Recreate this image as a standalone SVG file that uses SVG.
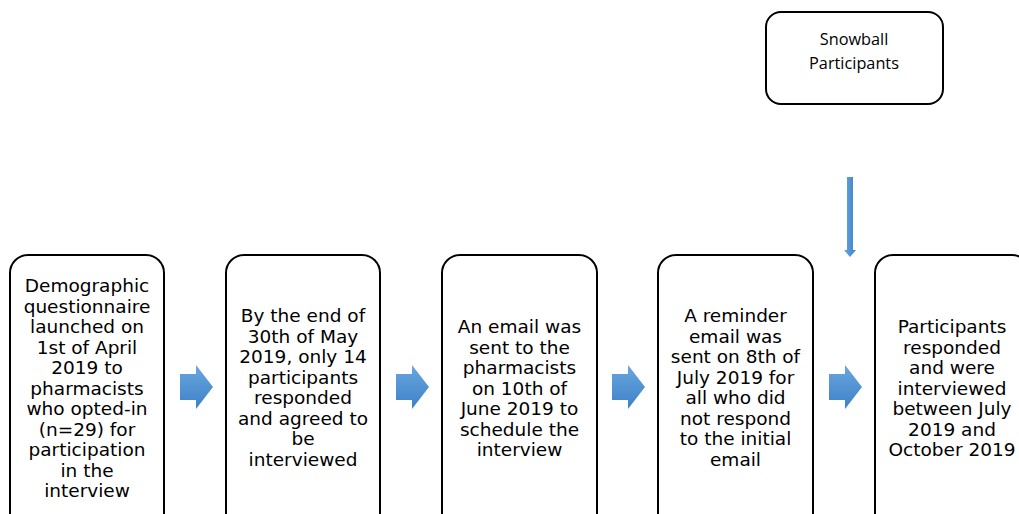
<svg xmlns="http://www.w3.org/2000/svg" width="1019" height="514" viewBox="0 0 1019 514">
<style>
.box{fill:#fff;stroke:#000;stroke-width:2}
.t{font-family:"DejaVu Sans",Verdana,sans-serif;font-size:18.5px;fill:#000;text-anchor:middle}
.s{font-family:"Open Sans","Liberation Sans",sans-serif;font-size:16.3px;fill:#000;text-anchor:middle}
.arr{fill:url(#g)}
.varr{fill:url(#gv)}
</style>
<defs>
<linearGradient id="g" x1="0" y1="0" x2="0" y2="1">
<stop offset="0" stop-color="#6aa7e0"/>
<stop offset="1" stop-color="#3d80c6"/>
</linearGradient>
<linearGradient id="gv" x1="0" y1="0" x2="1" y2="0">
<stop offset="0" stop-color="#6aa7e0"/>
<stop offset="1" stop-color="#3d80c6"/>
</linearGradient>
</defs>
<g id="snowball">
<rect class="box" x="766" y="12" width="177" height="92" rx="15"/>
<text class="s" x="854" y="45">Snowball</text>
<text class="s" x="854" y="69">Participants</text>
</g>
<g id="box1">
<rect class="box" x="10" y="255" width="154" height="280" rx="18"/>
<text class="t" x="87"><tspan x="87" y="292">Demographic</tspan><tspan x="87" y="312.5">questionnaire</tspan><tspan x="87" y="333">launched on</tspan><tspan x="87" y="353.5">1st of April</tspan><tspan x="87" y="374">2019 to</tspan><tspan x="87" y="394.5">pharmacists</tspan><tspan x="87" y="415">who opted-in</tspan><tspan x="87" y="435.5">(n=29) for</tspan><tspan x="87" y="456">participation</tspan><tspan x="87" y="476.5">in the</tspan><tspan x="87" y="497">interview</tspan></text>
</g>
<g id="box2">
<rect class="box" x="226" y="255" width="154" height="280" rx="18"/>
<text class="t"><tspan x="303" y="322">By the end of</tspan><tspan x="303" y="342.5">30th of May</tspan><tspan x="303" y="363">2019, only 14</tspan><tspan x="303" y="383.5">participants</tspan><tspan x="303" y="404">responded</tspan><tspan x="303" y="424.5">and agreed to</tspan><tspan x="303" y="445">be</tspan><tspan x="303" y="465.5">interviewed</tspan></text>
</g>
<g id="box3">
<rect class="box" x="442" y="255" width="155" height="280" rx="18"/>
<text class="t"><tspan x="519.5" y="333">An email was</tspan><tspan x="519.5" y="353.5">sent to the</tspan><tspan x="519.5" y="374">pharmacists</tspan><tspan x="519.5" y="394.5">on 10th of</tspan><tspan x="519.5" y="415">June 2019 to</tspan><tspan x="519.5" y="435.5">schedule the</tspan><tspan x="519.5" y="456">interview</tspan></text>
</g>
<g id="box4">
<rect class="box" x="658" y="255" width="155" height="280" rx="18"/>
<text class="t"><tspan x="735.5" y="322">A reminder</tspan><tspan x="735.5" y="342.5">email was</tspan><tspan x="735.5" y="363">sent on 8th of</tspan><tspan x="735.5" y="383.5">July 2019 for</tspan><tspan x="735.5" y="404">all who did</tspan><tspan x="735.5" y="424.5">not respond</tspan><tspan x="735.5" y="445">to the initial</tspan><tspan x="735.5" y="465.5">email</tspan></text>
</g>
<g id="box5">
<rect class="box" x="875" y="255" width="155" height="280" rx="18"/>
<text class="t"><tspan x="952" y="333">Participants</tspan><tspan x="952" y="353.5">responded</tspan><tspan x="952" y="374">and were</tspan><tspan x="952" y="394.5">interviewed</tspan><tspan x="952" y="415">between July</tspan><tspan x="952" y="435.5">2019 and</tspan><tspan x="952" y="456">October 2019</tspan></text>
</g>
<g id="connectors">
<path class="arr" d="M180 374H196V365L213 387L196 409V400H180Z"/>
<path class="arr" d="M396 374H412V365L429 387L412 409V400H396Z"/>
<path class="arr" d="M612 374H628V365L645 387L628 409V400H612Z"/>
<path class="arr" d="M829 374H845V365L862 387L845 409V400H829Z"/>
<path class="varr" d="M847 177H853V250H856L850 257L844 250H847Z"/>
</g>
</svg>
